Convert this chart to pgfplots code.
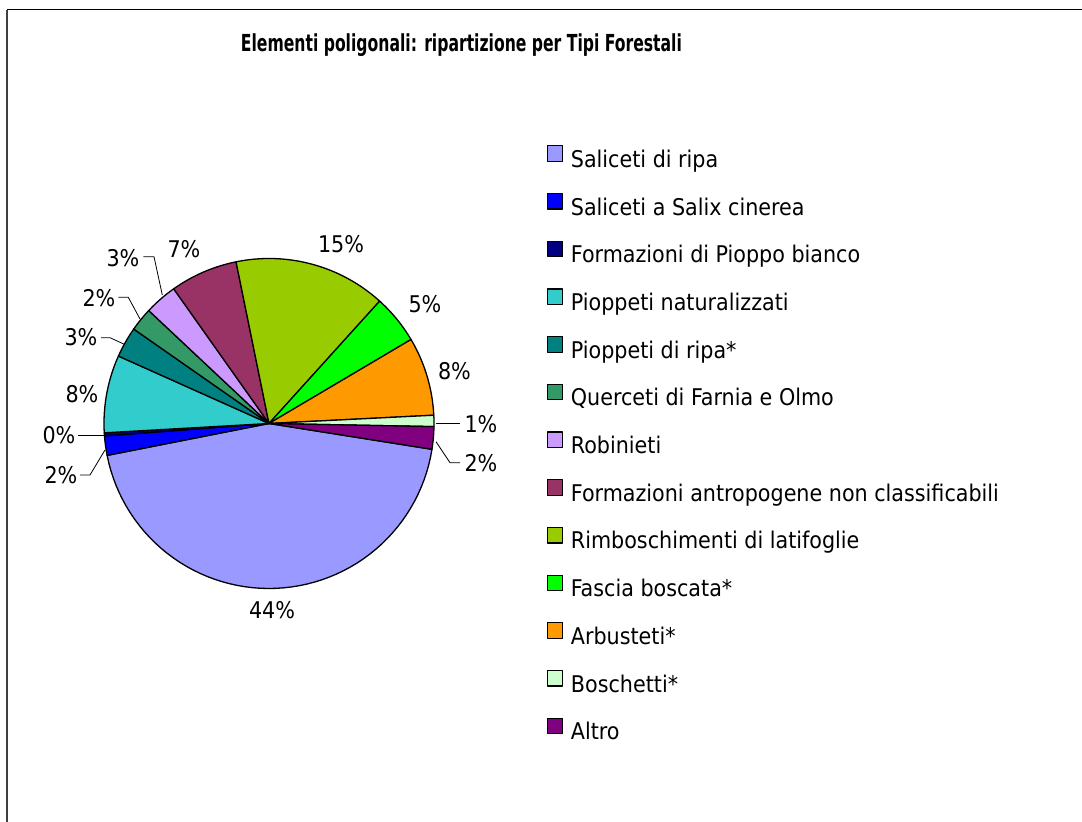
\documentclass[border=0pt]{standalone}
\usepackage{fontspec}
\setmainfont{DejaVu Sans Condensed}
\usepackage{graphicx}
\usepackage{pgfplots}
\usepackage{pgfplotstable}
\pgfplotsset{compat=1.18}

\definecolor{slice0}{HTML}{9999FF}
\definecolor{slice1}{HTML}{0000FF}
\definecolor{slice2}{HTML}{000080}
\definecolor{slice3}{HTML}{33CCCC}
\definecolor{slice4}{HTML}{008080}
\definecolor{slice5}{HTML}{339966}
\definecolor{slice6}{HTML}{CC99FF}
\definecolor{slice7}{HTML}{993366}
\definecolor{slice8}{HTML}{99CC00}
\definecolor{slice9}{HTML}{00FF00}
\definecolor{slice10}{HTML}{FF9900}
\definecolor{slice11}{HTML}{CCFFCC}
\definecolor{slice12}{HTML}{800080}

\pgfplotstableread[col sep=comma]{
label,value
Saliceti di ripa,44.4
Saliceti a Salix cinerea,1.9
Formazioni di Pioppo bianco,0.3
Pioppeti naturalizzati,7.6
Pioppeti di ripa*,3.0
Querceti di Farnia e Olmo,2.3
Robinieti,3.2
Formazioni antropogene non classificabili,6.6
Rimboschimenti di latifoglie,14.9
Fascia boscata*,4.8
Arbusteti*,7.7
Boschetti*,1.1
Altro,2.2
}\pietable

\begin{document}
\begin{tikzpicture}[x=1pt,y=1pt]
\begin{axis}[at={(0,0)}, anchor=south west, scale only axis,
  width=1082pt, height=822pt, xmin=0, xmax=1082, ymin=0, ymax=822,
  hide axis, clip=false,
  legend style={at={(0.50555,0.8236)}, anchor=north west, draw=none, fill=none,
    font=\fontsize{23}{27}\selectfont, inner sep=0pt, row sep=20.6pt, column sep=7.5pt,
    nodes={inner sep=0pt, text height=17pt, text depth=5pt}},
  legend cell align=left,
  legend image code/.code={\draw[#1, line width=1.2pt] (0pt,0pt) rectangle (15pt,15.5pt);},
]
\def\cum{0}
\pgfplotsforeachungrouped \i in {0,...,12}{
  \pgfplotstablegetelem{\i}{value}\of\pietable
  \let\val\pgfplotsretval
  \pgfmathsetmacro\angA{-9 - 3.6*\cum}
  \pgfmathsetmacro\cum{\cum+\val}
  \pgfmathsetmacro\angB{-9 - 3.6*\cum}
  \edef\doslice{\noexpand\addplot[draw=black, line width=1.3pt, line join=round, fill=slice\i, domain=\angB:\angA, samples=60] ({269+165*cos(x)},{398.5+165*sin(x)}) -- (axis cs:269,398.5) -- cycle;}
  \doslice
  \pgfplotstablegetelem{\i}{label}\of\pietable
  \edef\doentry{\noexpand\addlegendentry{\pgfplotsretval}}
  \doentry
}
% percentage labels
\begin{scope}[every node/.style={font=\fontsize{23}{27}\selectfont, anchor=base, inner sep=0pt}]
\node at (axis cs:272,203.7) {44\%};
\node at (axis cs:123,555.3) {3\%};
\node at (axis cs:184,564) {7\%};
\node at (axis cs:99,515.3) {2\%};
\node at (axis cs:81,476) {3\%};
\node at (axis cs:82,419.7) {8\%};
\node at (axis cs:59,378) {0\%};
\node at (axis cs:61,338.7) {2\%};
\node at (axis cs:425,509.3) {5\%};
\node at (axis cs:454.5,442) {8\%};
\node at (axis cs:481,389.3) {1\%};
\node at (axis cs:481,350.3) {2\%};
\node at (axis cs:341,569.7) {15\%};
\end{scope}
% leader lines
\begin{scope}[line width=0.8pt]
\draw (axis cs:143.3,565.3) -- (axis cs:154,565.3) -- (axis cs:162.3,527);
\draw (axis cs:118.3,524.7) -- (axis cs:128.3,524.7) -- (axis cs:140,503);
\draw (axis cs:101,484.3) -- (axis cs:110,484.3) -- (axis cs:124.3,477.7);
\draw (axis cs:78.3,386.3) -- (axis cs:104,386.3);
\draw (axis cs:80,347) -- (axis cs:90,347) -- (axis cs:105,372);
\draw (axis cs:436,398.7) -- (axis cs:460,398.7);
\draw (axis cs:436,380.3) -- (axis cs:450,359.3) -- (axis cs:460,359.3);
\end{scope}
% title
\node[anchor=base west, inner sep=0pt] at (axis cs:240.7,770.3)
  {\resizebox{441pt}{17.8pt}{\bfseries Elementi poligonali: ripartizione per Tipi Forestali}};
\end{axis}
\draw[line width=1.3pt, black!75] (7,0) -- (7,812);
\draw[line width=1pt] (7,812) -- (1082,812);
\pgfresetboundingbox
\useasboundingbox (0,0) rectangle (1082,822);
\end{tikzpicture}
\end{document}
